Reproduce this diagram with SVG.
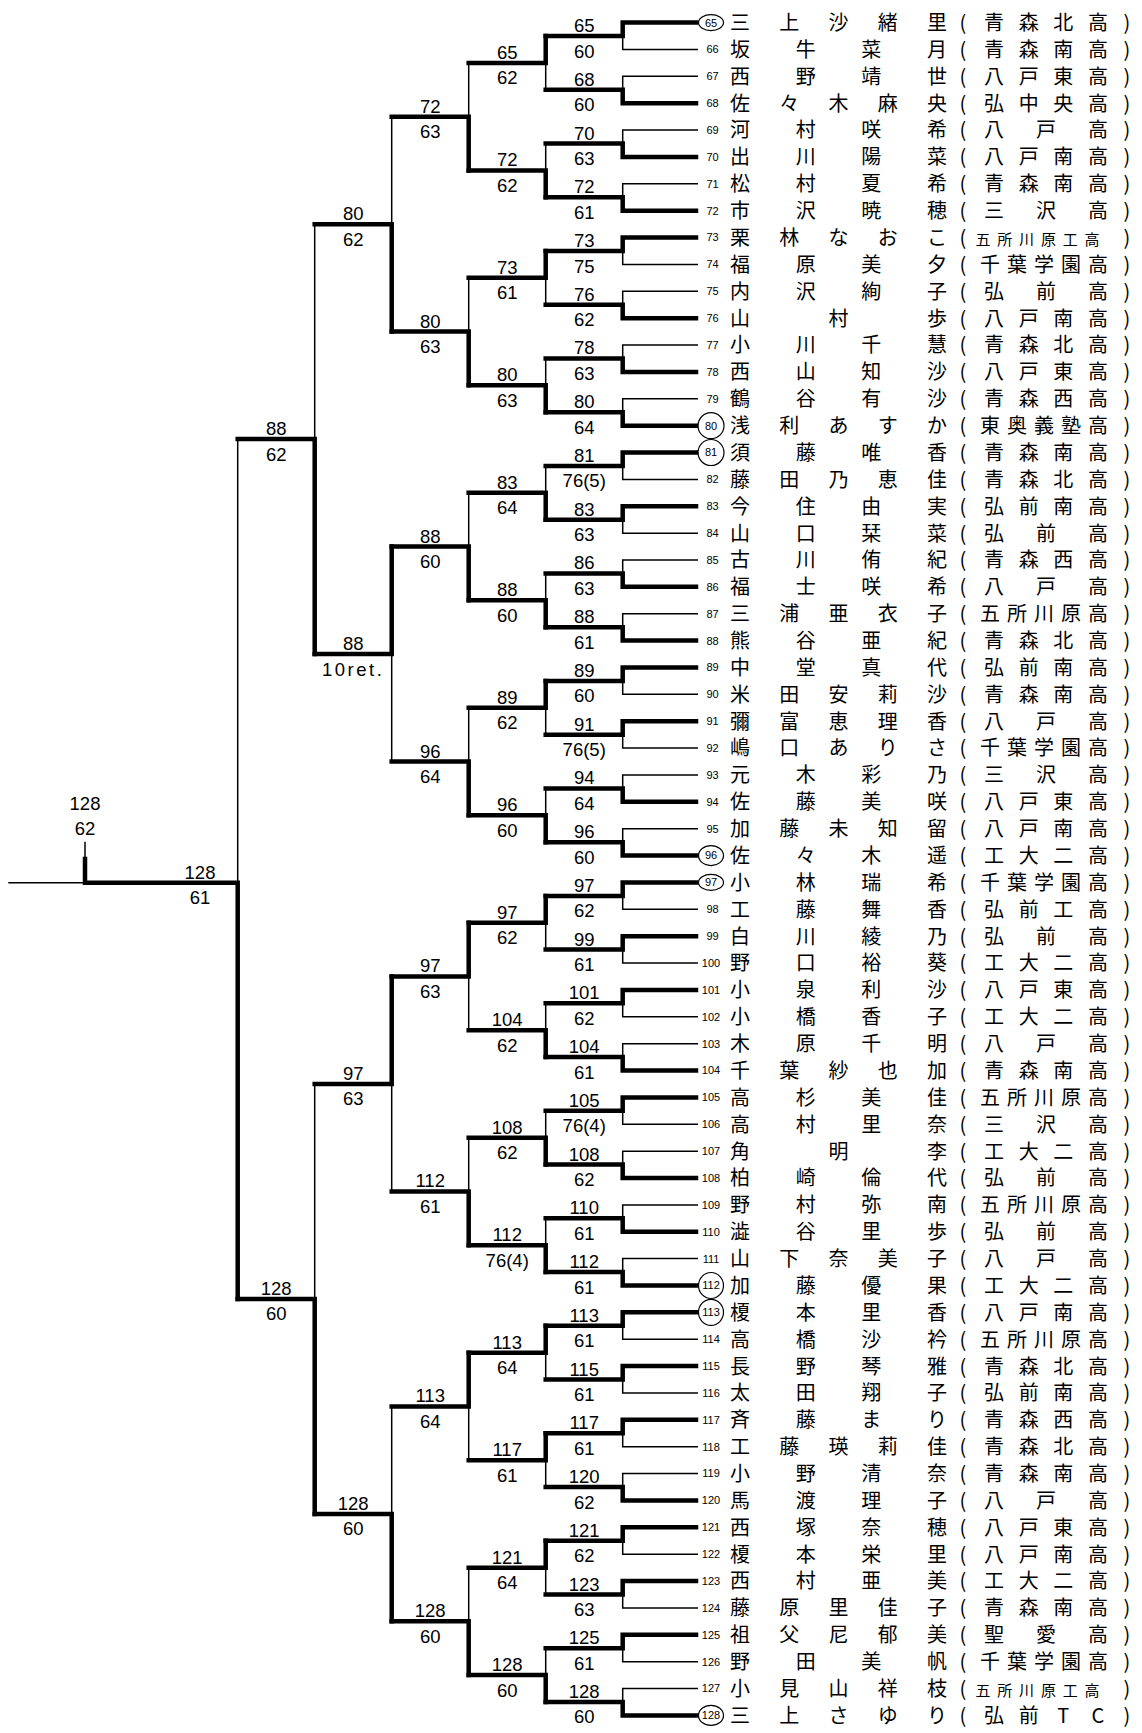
<svg xmlns="http://www.w3.org/2000/svg" width="1142" height="1733" viewBox="0 0 1142 1733">
<style>
.k{fill:none;stroke:#000;stroke-width:4.5;stroke-linecap:square;stroke-linejoin:miter}
.t{fill:none;stroke:#000;stroke-width:1.5}
.l{font-family:"Liberation Sans",Arial,sans-serif;font-size:18.5px;text-anchor:middle;fill:#000}
.rt{letter-spacing:2.5px}
.sd{font-family:"Liberation Sans",Arial,sans-serif;font-size:11px;text-anchor:middle;fill:#000}
.nm{font-family:"Noto Sans CJK JP","Noto Sans CJK SC",sans-serif;font-size:20px;text-anchor:middle;fill:#000}
.sm{font-size:15px}
.c{fill:none;stroke:#000;stroke-width:1.2}
</style>
<rect width="1142" height="1733" fill="#fff"/>
<g id="connectors">
<path class="k" d="M545.7 36.04H622.7V22.6H696"/><path class="t" d="M622.7 36.04V49.47H698"/>
<path class="k" d="M545.7 89.78H622.7V103.21H696"/><path class="t" d="M622.7 89.78V76.34H698"/>
<path class="k" d="M545.7 143.52H622.7V156.95H696"/><path class="t" d="M622.7 143.52V130.08H698"/>
<path class="k" d="M545.7 197.26H622.7V210.69H696"/><path class="t" d="M622.7 197.26V183.82H698"/>
<path class="k" d="M545.7 251H622.7V237.56H696"/><path class="t" d="M622.7 251V264.43H698"/>
<path class="k" d="M545.7 304.74H622.7V318.17H696"/><path class="t" d="M622.7 304.74V291.3H698"/>
<path class="k" d="M545.7 358.48H622.7V371.91H696"/><path class="t" d="M622.7 358.48V345.04H698"/>
<path class="k" d="M545.7 412.22H622.7V425.65H696"/><path class="t" d="M622.7 412.22V398.78H698"/>
<path class="k" d="M545.7 465.96H622.7V452.52H696"/><path class="t" d="M622.7 465.96V479.39H698"/>
<path class="k" d="M545.7 519.7H622.7V506.26H696"/><path class="t" d="M622.7 519.7V533.13H698"/>
<path class="k" d="M545.7 573.44H622.7V586.87H696"/><path class="t" d="M622.7 573.44V560H698"/>
<path class="k" d="M545.7 627.18H622.7V640.61H696"/><path class="t" d="M622.7 627.18V613.74H698"/>
<path class="k" d="M545.7 680.92H622.7V667.48H696"/><path class="t" d="M622.7 680.92V694.35H698"/>
<path class="k" d="M545.7 734.66H622.7V721.22H696"/><path class="t" d="M622.7 734.66V748.09H698"/>
<path class="k" d="M545.7 788.4H622.7V801.83H696"/><path class="t" d="M622.7 788.4V774.96H698"/>
<path class="k" d="M545.7 842.14H622.7V855.57H696"/><path class="t" d="M622.7 842.14V828.7H698"/>
<path class="k" d="M545.7 895.88H622.7V882.44H696"/><path class="t" d="M622.7 895.88V909.31H698"/>
<path class="k" d="M545.7 949.62H622.7V936.18H696"/><path class="t" d="M622.7 949.62V963.05H698"/>
<path class="k" d="M545.7 1003.36H622.7V989.92H696"/><path class="t" d="M622.7 1003.36V1016.79H698"/>
<path class="k" d="M545.7 1057.1H622.7V1070.53H696"/><path class="t" d="M622.7 1057.1V1043.66H698"/>
<path class="k" d="M545.7 1110.84H622.7V1097.4H696"/><path class="t" d="M622.7 1110.84V1124.27H698"/>
<path class="k" d="M545.7 1164.58H622.7V1178.01H696"/><path class="t" d="M622.7 1164.58V1151.14H698"/>
<path class="k" d="M545.7 1218.32H622.7V1231.75H696"/><path class="t" d="M622.7 1218.32V1204.88H698"/>
<path class="k" d="M545.7 1272.06H622.7V1285.49H696"/><path class="t" d="M622.7 1272.06V1258.62H698"/>
<path class="k" d="M545.7 1325.8H622.7V1312.36H696"/><path class="t" d="M622.7 1325.8V1339.23H698"/>
<path class="k" d="M545.7 1379.54H622.7V1366.1H696"/><path class="t" d="M622.7 1379.54V1392.97H698"/>
<path class="k" d="M545.7 1433.28H622.7V1419.84H696"/><path class="t" d="M622.7 1433.28V1446.71H698"/>
<path class="k" d="M545.7 1487.02H622.7V1500.45H696"/><path class="t" d="M622.7 1487.02V1473.58H698"/>
<path class="k" d="M545.7 1540.76H622.7V1527.32H696"/><path class="t" d="M622.7 1540.76V1554.19H698"/>
<path class="k" d="M545.7 1594.5H622.7V1581.06H696"/><path class="t" d="M622.7 1594.5V1607.93H698"/>
<path class="k" d="M545.7 1648.24H622.7V1634.8H696"/><path class="t" d="M622.7 1648.24V1661.67H698"/>
<path class="k" d="M545.7 1701.98H622.7V1715.41H696"/><path class="t" d="M622.7 1701.98V1688.54H698"/>
<path class="k" d="M468.7 62.91H545.7V36.04"/><path class="t" d="M545.7 62.91V89.78"/>
<path class="k" d="M468.7 170.39H545.7V197.26"/><path class="t" d="M545.7 170.39V143.52"/>
<path class="k" d="M468.7 277.87H545.7V251"/><path class="t" d="M545.7 277.87V304.74"/>
<path class="k" d="M468.7 385.35H545.7V412.22"/><path class="t" d="M545.7 385.35V358.48"/>
<path class="k" d="M468.7 492.83H545.7V519.7"/><path class="t" d="M545.7 492.83V465.96"/>
<path class="k" d="M468.7 600.31H545.7V627.18"/><path class="t" d="M545.7 600.31V573.44"/>
<path class="k" d="M468.7 707.79H545.7V680.92"/><path class="t" d="M545.7 707.79V734.66"/>
<path class="k" d="M468.7 815.27H545.7V842.14"/><path class="t" d="M545.7 815.27V788.4"/>
<path class="k" d="M468.7 922.75H545.7V895.88"/><path class="t" d="M545.7 922.75V949.62"/>
<path class="k" d="M468.7 1030.23H545.7V1057.1"/><path class="t" d="M545.7 1030.23V1003.36"/>
<path class="k" d="M468.7 1137.71H545.7V1164.58"/><path class="t" d="M545.7 1137.71V1110.84"/>
<path class="k" d="M468.7 1245.19H545.7V1272.06"/><path class="t" d="M545.7 1245.19V1218.32"/>
<path class="k" d="M468.7 1352.67H545.7V1325.8"/><path class="t" d="M545.7 1352.67V1379.54"/>
<path class="k" d="M468.7 1460.15H545.7V1433.28"/><path class="t" d="M545.7 1460.15V1487.02"/>
<path class="k" d="M468.7 1567.63H545.7V1540.76"/><path class="t" d="M545.7 1567.63V1594.5"/>
<path class="k" d="M468.7 1675.11H545.7V1701.98"/><path class="t" d="M545.7 1675.11V1648.24"/>
<path class="k" d="M391.7 116.65H468.7V170.39"/><path class="t" d="M468.7 116.65V62.91"/>
<path class="k" d="M391.7 331.61H468.7V385.35"/><path class="t" d="M468.7 331.61V277.87"/>
<path class="k" d="M391.7 546.57H468.7V600.31"/><path class="t" d="M468.7 546.57V492.83"/>
<path class="k" d="M391.7 761.53H468.7V815.27"/><path class="t" d="M468.7 761.53V707.79"/>
<path class="k" d="M391.7 976.49H468.7V922.75"/><path class="t" d="M468.7 976.49V1030.23"/>
<path class="k" d="M391.7 1191.45H468.7V1245.19"/><path class="t" d="M468.7 1191.45V1137.71"/>
<path class="k" d="M391.7 1406.41H468.7V1352.67"/><path class="t" d="M468.7 1406.41V1460.15"/>
<path class="k" d="M391.7 1621.37H468.7V1675.11"/><path class="t" d="M468.7 1621.37V1567.63"/>
<path class="k" d="M314.7 224.13H391.7V331.61"/><path class="t" d="M391.7 224.13V116.65"/>
<path class="k" d="M314.7 654.05H391.7V546.57"/><path class="t" d="M391.7 654.05V761.53"/>
<path class="k" d="M314.7 1083.97H391.7V976.49"/><path class="t" d="M391.7 1083.97V1191.45"/>
<path class="k" d="M314.7 1513.89H391.7V1621.37"/><path class="t" d="M391.7 1513.89V1406.41"/>
<path class="k" d="M237.7 439.09H314.7V654.05"/><path class="t" d="M314.7 439.09V224.13"/>
<path class="k" d="M237.7 1298.93H314.7V1513.89"/><path class="t" d="M314.7 1298.93V1083.97"/>
<path class="k" d="M85 858.9V882.7H237.7V1298.93"/><path class="t" d="M237.7 882.7V439.09"/>
<path class="t" d="M85 841.7V858"/><path class="t" d="M8.3 882.7H85"/>
</g>
<g id="scores">
<g id="r1-1" transform="translate(584.2 36.04)"><text class="l" y="-4">65</text><text class="l" y="21.5">60</text></g>
<g id="r1-2" transform="translate(584.2 89.78)"><text class="l" y="-4">68</text><text class="l" y="21.5">60</text></g>
<g id="r1-3" transform="translate(584.2 143.52)"><text class="l" y="-4">70</text><text class="l" y="21.5">63</text></g>
<g id="r1-4" transform="translate(584.2 197.26)"><text class="l" y="-4">72</text><text class="l" y="21.5">61</text></g>
<g id="r1-5" transform="translate(584.2 251)"><text class="l" y="-4">73</text><text class="l" y="21.5">75</text></g>
<g id="r1-6" transform="translate(584.2 304.74)"><text class="l" y="-4">76</text><text class="l" y="21.5">62</text></g>
<g id="r1-7" transform="translate(584.2 358.48)"><text class="l" y="-4">78</text><text class="l" y="21.5">63</text></g>
<g id="r1-8" transform="translate(584.2 412.22)"><text class="l" y="-4">80</text><text class="l" y="21.5">64</text></g>
<g id="r1-9" transform="translate(584.2 465.96)"><text class="l" y="-4">81</text><text class="l" y="21.5">76(5)</text></g>
<g id="r1-10" transform="translate(584.2 519.7)"><text class="l" y="-4">83</text><text class="l" y="21.5">63</text></g>
<g id="r1-11" transform="translate(584.2 573.44)"><text class="l" y="-4">86</text><text class="l" y="21.5">63</text></g>
<g id="r1-12" transform="translate(584.2 627.18)"><text class="l" y="-4">88</text><text class="l" y="21.5">61</text></g>
<g id="r1-13" transform="translate(584.2 680.92)"><text class="l" y="-4">89</text><text class="l" y="21.5">60</text></g>
<g id="r1-14" transform="translate(584.2 734.66)"><text class="l" y="-4">91</text><text class="l" y="21.5">76(5)</text></g>
<g id="r1-15" transform="translate(584.2 788.4)"><text class="l" y="-4">94</text><text class="l" y="21.5">64</text></g>
<g id="r1-16" transform="translate(584.2 842.14)"><text class="l" y="-4">96</text><text class="l" y="21.5">60</text></g>
<g id="r1-17" transform="translate(584.2 895.88)"><text class="l" y="-4">97</text><text class="l" y="21.5">62</text></g>
<g id="r1-18" transform="translate(584.2 949.62)"><text class="l" y="-4">99</text><text class="l" y="21.5">61</text></g>
<g id="r1-19" transform="translate(584.2 1003.36)"><text class="l" y="-4">101</text><text class="l" y="21.5">62</text></g>
<g id="r1-20" transform="translate(584.2 1057.1)"><text class="l" y="-4">104</text><text class="l" y="21.5">61</text></g>
<g id="r1-21" transform="translate(584.2 1110.84)"><text class="l" y="-4">105</text><text class="l" y="21.5">76(4)</text></g>
<g id="r1-22" transform="translate(584.2 1164.58)"><text class="l" y="-4">108</text><text class="l" y="21.5">62</text></g>
<g id="r1-23" transform="translate(584.2 1218.32)"><text class="l" y="-4">110</text><text class="l" y="21.5">61</text></g>
<g id="r1-24" transform="translate(584.2 1272.06)"><text class="l" y="-4">112</text><text class="l" y="21.5">61</text></g>
<g id="r1-25" transform="translate(584.2 1325.8)"><text class="l" y="-4">113</text><text class="l" y="21.5">61</text></g>
<g id="r1-26" transform="translate(584.2 1379.54)"><text class="l" y="-4">115</text><text class="l" y="21.5">61</text></g>
<g id="r1-27" transform="translate(584.2 1433.28)"><text class="l" y="-4">117</text><text class="l" y="21.5">61</text></g>
<g id="r1-28" transform="translate(584.2 1487.02)"><text class="l" y="-4">120</text><text class="l" y="21.5">62</text></g>
<g id="r1-29" transform="translate(584.2 1540.76)"><text class="l" y="-4">121</text><text class="l" y="21.5">62</text></g>
<g id="r1-30" transform="translate(584.2 1594.5)"><text class="l" y="-4">123</text><text class="l" y="21.5">63</text></g>
<g id="r1-31" transform="translate(584.2 1648.24)"><text class="l" y="-4">125</text><text class="l" y="21.5">61</text></g>
<g id="r1-32" transform="translate(584.2 1701.98)"><text class="l" y="-4">128</text><text class="l" y="21.5">60</text></g>
<g id="r2-1" transform="translate(507.2 62.91)"><text class="l" y="-4">65</text><text class="l" y="21.5">62</text></g>
<g id="r2-2" transform="translate(507.2 170.39)"><text class="l" y="-4">72</text><text class="l" y="21.5">62</text></g>
<g id="r2-3" transform="translate(507.2 277.87)"><text class="l" y="-4">73</text><text class="l" y="21.5">61</text></g>
<g id="r2-4" transform="translate(507.2 385.35)"><text class="l" y="-4">80</text><text class="l" y="21.5">63</text></g>
<g id="r2-5" transform="translate(507.2 492.83)"><text class="l" y="-4">83</text><text class="l" y="21.5">64</text></g>
<g id="r2-6" transform="translate(507.2 600.31)"><text class="l" y="-4">88</text><text class="l" y="21.5">60</text></g>
<g id="r2-7" transform="translate(507.2 707.79)"><text class="l" y="-4">89</text><text class="l" y="21.5">62</text></g>
<g id="r2-8" transform="translate(507.2 815.27)"><text class="l" y="-4">96</text><text class="l" y="21.5">60</text></g>
<g id="r2-9" transform="translate(507.2 922.75)"><text class="l" y="-4">97</text><text class="l" y="21.5">62</text></g>
<g id="r2-10" transform="translate(507.2 1030.23)"><text class="l" y="-4">104</text><text class="l" y="21.5">62</text></g>
<g id="r2-11" transform="translate(507.2 1137.71)"><text class="l" y="-4">108</text><text class="l" y="21.5">62</text></g>
<g id="r2-12" transform="translate(507.2 1245.19)"><text class="l" y="-4">112</text><text class="l" y="21.5">76(4)</text></g>
<g id="r2-13" transform="translate(507.2 1352.67)"><text class="l" y="-4">113</text><text class="l" y="21.5">64</text></g>
<g id="r2-14" transform="translate(507.2 1460.15)"><text class="l" y="-4">117</text><text class="l" y="21.5">61</text></g>
<g id="r2-15" transform="translate(507.2 1567.63)"><text class="l" y="-4">121</text><text class="l" y="21.5">64</text></g>
<g id="r2-16" transform="translate(507.2 1675.11)"><text class="l" y="-4">128</text><text class="l" y="21.5">60</text></g>
<g id="r3-1" transform="translate(430.2 116.65)"><text class="l" y="-4">72</text><text class="l" y="21.5">63</text></g>
<g id="r3-2" transform="translate(430.2 331.61)"><text class="l" y="-4">80</text><text class="l" y="21.5">63</text></g>
<g id="r3-3" transform="translate(430.2 546.57)"><text class="l" y="-4">88</text><text class="l" y="21.5">60</text></g>
<g id="r3-4" transform="translate(430.2 761.53)"><text class="l" y="-4">96</text><text class="l" y="21.5">64</text></g>
<g id="r3-5" transform="translate(430.2 976.49)"><text class="l" y="-4">97</text><text class="l" y="21.5">63</text></g>
<g id="r3-6" transform="translate(430.2 1191.45)"><text class="l" y="-4">112</text><text class="l" y="21.5">61</text></g>
<g id="r3-7" transform="translate(430.2 1406.41)"><text class="l" y="-4">113</text><text class="l" y="21.5">64</text></g>
<g id="r3-8" transform="translate(430.2 1621.37)"><text class="l" y="-4">128</text><text class="l" y="21.5">60</text></g>
<g id="r4-1" transform="translate(353.2 224.13)"><text class="l" y="-4">80</text><text class="l" y="21.5">62</text></g>
<g id="r4-2" transform="translate(353.2 654.05)"><text class="l" y="-4">88</text><text class="l rt" y="21.5">10ret.</text></g>
<g id="r4-3" transform="translate(353.2 1083.97)"><text class="l" y="-4">97</text><text class="l" y="21.5">63</text></g>
<g id="r4-4" transform="translate(353.2 1513.89)"><text class="l" y="-4">128</text><text class="l" y="21.5">60</text></g>
<g id="r5-1" transform="translate(276.2 439.09)"><text class="l" y="-4">88</text><text class="l" y="21.5">62</text></g>
<g id="r5-2" transform="translate(276.2 1298.93)"><text class="l" y="-4">128</text><text class="l" y="21.5">60</text></g>
<g id="final" transform="translate(200 882.7)"><text class="l" y="-4">128</text><text class="l" y="21.5">61</text></g>
<g id="champion" transform="translate(85 0)"><text class="l" y="809.5">128</text><text class="l" y="835">62</text></g>
</g>
<g id="players">
<g id="p65" transform="translate(0 22.6)"><ellipse class="c" cx="711" cy="0" rx="12.5" ry="8"/><text class="sd" x="711" y="3.9">65</text><text class="nm" x="740 789.3 838.5 887.8 937 963 994 1028.7 1063.3 1098 1127" y="7.4">三上沙緒里(青森北高)</text></g>
<g id="p66" transform="translate(0 49.47)"><text class="sd" x="712.5" y="3.9">66</text><text class="nm" x="740 805.7 871.3 937 963 994 1028.7 1063.3 1098 1127" y="7.4">坂牛菜月(青森南高)</text></g>
<g id="p67" transform="translate(0 76.34)"><text class="sd" x="712.5" y="3.9">67</text><text class="nm" x="740 805.7 871.3 937 963 994 1028.7 1063.3 1098 1127" y="7.4">西野靖世(八戸東高)</text></g>
<g id="p68" transform="translate(0 103.21)"><text class="sd" x="712.5" y="3.9">68</text><text class="nm" x="740 789.3 838.5 887.8 937 963 994 1028.7 1063.3 1098 1127" y="7.4">佐々木麻央(弘中央高)</text></g>
<g id="p69" transform="translate(0 130.08)"><text class="sd" x="712.5" y="3.9">69</text><text class="nm" x="740 805.7 871.3 937 963 994 1046 1098 1127" y="7.4">河村咲希(八戸高)</text></g>
<g id="p70" transform="translate(0 156.95)"><text class="sd" x="712.5" y="3.9">70</text><text class="nm" x="740 805.7 871.3 937 963 994 1028.7 1063.3 1098 1127" y="7.4">出川陽菜(八戸南高)</text></g>
<g id="p71" transform="translate(0 183.82)"><text class="sd" x="712.5" y="3.9">71</text><text class="nm" x="740 805.7 871.3 937 963 994 1028.7 1063.3 1098 1127" y="7.4">松村夏希(青森南高)</text></g>
<g id="p72" transform="translate(0 210.69)"><text class="sd" x="712.5" y="3.9">72</text><text class="nm" x="740 805.7 871.3 937 963 994 1046 1098 1127" y="7.4">市沢暁穂(三沢高)</text></g>
<g id="p73" transform="translate(0 237.56)"><text class="sd" x="712.5" y="3.9">73</text><text class="nm" x="740 789.3 838.5 887.8 937 963 983 1004.8 1026.6 1048.4 1070.2 1092 1127" y="7.4">栗林なおこ(<tspan class="sm">五所川原工高</tspan>)</text></g>
<g id="p74" transform="translate(0 264.43)"><text class="sd" x="712.5" y="3.9">74</text><text class="nm" x="740 805.7 871.3 937 963 990 1017 1044 1071 1098 1127" y="7.4">福原美夕(千葉学園高)</text></g>
<g id="p75" transform="translate(0 291.3)"><text class="sd" x="712.5" y="3.9">75</text><text class="nm" x="740 805.7 871.3 937 963 994 1046 1098 1127" y="7.4">内沢絢子(弘前高)</text></g>
<g id="p76" transform="translate(0 318.17)"><text class="sd" x="712.5" y="3.9">76</text><text class="nm" x="740 838.5 937 963 994 1028.7 1063.3 1098 1127" y="7.4">山村歩(八戸南高)</text></g>
<g id="p77" transform="translate(0 345.04)"><text class="sd" x="712.5" y="3.9">77</text><text class="nm" x="740 805.7 871.3 937 963 994 1028.7 1063.3 1098 1127" y="7.4">小川千慧(青森北高)</text></g>
<g id="p78" transform="translate(0 371.91)"><text class="sd" x="712.5" y="3.9">78</text><text class="nm" x="740 805.7 871.3 937 963 994 1028.7 1063.3 1098 1127" y="7.4">西山知沙(八戸東高)</text></g>
<g id="p79" transform="translate(0 398.78)"><text class="sd" x="712.5" y="3.9">79</text><text class="nm" x="740 805.7 871.3 937 963 994 1028.7 1063.3 1098 1127" y="7.4">鶴谷有沙(青森西高)</text></g>
<g id="p80" transform="translate(0 425.65)"><ellipse class="c" cx="711" cy="0" rx="13" ry="13"/><text class="sd" x="711" y="3.9">80</text><text class="nm" x="740 789.3 838.5 887.8 937 963 990 1017 1044 1071 1098 1127" y="7.4">浅利あすか(東奥義塾高)</text></g>
<g id="p81" transform="translate(0 452.52)"><ellipse class="c" cx="711" cy="0" rx="13" ry="13"/><text class="sd" x="711" y="3.9">81</text><text class="nm" x="740 805.7 871.3 937 963 994 1028.7 1063.3 1098 1127" y="7.4">須藤唯香(青森南高)</text></g>
<g id="p82" transform="translate(0 479.39)"><text class="sd" x="712.5" y="3.9">82</text><text class="nm" x="740 789.3 838.5 887.8 937 963 994 1028.7 1063.3 1098 1127" y="7.4">藤田乃恵佳(青森北高)</text></g>
<g id="p83" transform="translate(0 506.26)"><text class="sd" x="712.5" y="3.9">83</text><text class="nm" x="740 805.7 871.3 937 963 994 1028.7 1063.3 1098 1127" y="7.4">今住由実(弘前南高)</text></g>
<g id="p84" transform="translate(0 533.13)"><text class="sd" x="712.5" y="3.9">84</text><text class="nm" x="740 805.7 871.3 937 963 994 1046 1098 1127" y="7.4">山口栞菜(弘前高)</text></g>
<g id="p85" transform="translate(0 560)"><text class="sd" x="712.5" y="3.9">85</text><text class="nm" x="740 805.7 871.3 937 963 994 1028.7 1063.3 1098 1127" y="7.4">古川侑紀(青森西高)</text></g>
<g id="p86" transform="translate(0 586.87)"><text class="sd" x="712.5" y="3.9">86</text><text class="nm" x="740 805.7 871.3 937 963 994 1046 1098 1127" y="7.4">福士咲希(八戸高)</text></g>
<g id="p87" transform="translate(0 613.74)"><text class="sd" x="712.5" y="3.9">87</text><text class="nm" x="740 789.3 838.5 887.8 937 963 990 1017 1044 1071 1098 1127" y="7.4">三浦亜衣子(五所川原高)</text></g>
<g id="p88" transform="translate(0 640.61)"><text class="sd" x="712.5" y="3.9">88</text><text class="nm" x="740 805.7 871.3 937 963 994 1028.7 1063.3 1098 1127" y="7.4">熊谷亜紀(青森北高)</text></g>
<g id="p89" transform="translate(0 667.48)"><text class="sd" x="712.5" y="3.9">89</text><text class="nm" x="740 805.7 871.3 937 963 994 1028.7 1063.3 1098 1127" y="7.4">中堂真代(弘前南高)</text></g>
<g id="p90" transform="translate(0 694.35)"><text class="sd" x="712.5" y="3.9">90</text><text class="nm" x="740 789.3 838.5 887.8 937 963 994 1028.7 1063.3 1098 1127" y="7.4">米田安莉沙(青森南高)</text></g>
<g id="p91" transform="translate(0 721.22)"><text class="sd" x="712.5" y="3.9">91</text><text class="nm" x="740 789.3 838.5 887.8 937 963 994 1046 1098 1127" y="7.4">彌富恵理香(八戸高)</text></g>
<g id="p92" transform="translate(0 748.09)"><text class="sd" x="712.5" y="3.9">92</text><text class="nm" x="740 789.3 838.5 887.8 937 963 990 1017 1044 1071 1098 1127" y="7.4">嶋口ありさ(千葉学園高)</text></g>
<g id="p93" transform="translate(0 774.96)"><text class="sd" x="712.5" y="3.9">93</text><text class="nm" x="740 805.7 871.3 937 963 994 1046 1098 1127" y="7.4">元木彩乃(三沢高)</text></g>
<g id="p94" transform="translate(0 801.83)"><text class="sd" x="712.5" y="3.9">94</text><text class="nm" x="740 805.7 871.3 937 963 994 1028.7 1063.3 1098 1127" y="7.4">佐藤美咲(八戸東高)</text></g>
<g id="p95" transform="translate(0 828.7)"><text class="sd" x="712.5" y="3.9">95</text><text class="nm" x="740 789.3 838.5 887.8 937 963 994 1028.7 1063.3 1098 1127" y="7.4">加藤未知留(八戸南高)</text></g>
<g id="p96" transform="translate(0 855.57)"><ellipse class="c" cx="711" cy="0" rx="12.5" ry="10"/><text class="sd" x="711" y="3.9">96</text><text class="nm" x="740 805.7 871.3 937 963 994 1028.7 1063.3 1098 1127" y="7.4">佐々木遥(工大二高)</text></g>
<g id="p97" transform="translate(0 882.44)"><ellipse class="c" cx="711" cy="0" rx="12.5" ry="8"/><text class="sd" x="711" y="3.9">97</text><text class="nm" x="740 805.7 871.3 937 963 990 1017 1044 1071 1098 1127" y="7.4">小林瑞希(千葉学園高)</text></g>
<g id="p98" transform="translate(0 909.31)"><text class="sd" x="712.5" y="3.9">98</text><text class="nm" x="740 805.7 871.3 937 963 994 1028.7 1063.3 1098 1127" y="7.4">工藤舞香(弘前工高)</text></g>
<g id="p99" transform="translate(0 936.18)"><text class="sd" x="712.5" y="3.9">99</text><text class="nm" x="740 805.7 871.3 937 963 994 1046 1098 1127" y="7.4">白川綾乃(弘前高)</text></g>
<g id="p100" transform="translate(0 963.05)"><text class="sd" x="711" y="3.9">100</text><text class="nm" x="740 805.7 871.3 937 963 994 1028.7 1063.3 1098 1127" y="7.4">野口裕葵(工大二高)</text></g>
<g id="p101" transform="translate(0 989.92)"><text class="sd" x="711" y="3.9">101</text><text class="nm" x="740 805.7 871.3 937 963 994 1028.7 1063.3 1098 1127" y="7.4">小泉利沙(八戸東高)</text></g>
<g id="p102" transform="translate(0 1016.79)"><text class="sd" x="711" y="3.9">102</text><text class="nm" x="740 805.7 871.3 937 963 994 1028.7 1063.3 1098 1127" y="7.4">小橋香子(工大二高)</text></g>
<g id="p103" transform="translate(0 1043.66)"><text class="sd" x="711" y="3.9">103</text><text class="nm" x="740 805.7 871.3 937 963 994 1046 1098 1127" y="7.4">木原千明(八戸高)</text></g>
<g id="p104" transform="translate(0 1070.53)"><text class="sd" x="711" y="3.9">104</text><text class="nm" x="740 789.3 838.5 887.8 937 963 994 1028.7 1063.3 1098 1127" y="7.4">千葉紗也加(青森南高)</text></g>
<g id="p105" transform="translate(0 1097.4)"><text class="sd" x="711" y="3.9">105</text><text class="nm" x="740 805.7 871.3 937 963 990 1017 1044 1071 1098 1127" y="7.4">高杉美佳(五所川原高)</text></g>
<g id="p106" transform="translate(0 1124.27)"><text class="sd" x="711" y="3.9">106</text><text class="nm" x="740 805.7 871.3 937 963 994 1046 1098 1127" y="7.4">高村里奈(三沢高)</text></g>
<g id="p107" transform="translate(0 1151.14)"><text class="sd" x="711" y="3.9">107</text><text class="nm" x="740 838.5 937 963 994 1028.7 1063.3 1098 1127" y="7.4">角明李(工大二高)</text></g>
<g id="p108" transform="translate(0 1178.01)"><text class="sd" x="711" y="3.9">108</text><text class="nm" x="740 805.7 871.3 937 963 994 1046 1098 1127" y="7.4">柏崎倫代(弘前高)</text></g>
<g id="p109" transform="translate(0 1204.88)"><text class="sd" x="711" y="3.9">109</text><text class="nm" x="740 805.7 871.3 937 963 990 1017 1044 1071 1098 1127" y="7.4">野村弥南(五所川原高)</text></g>
<g id="p110" transform="translate(0 1231.75)"><text class="sd" x="711" y="3.9">110</text><text class="nm" x="740 805.7 871.3 937 963 994 1046 1098 1127" y="7.4">澁谷里歩(弘前高)</text></g>
<g id="p111" transform="translate(0 1258.62)"><text class="sd" x="711" y="3.9">111</text><text class="nm" x="740 789.3 838.5 887.8 937 963 994 1046 1098 1127" y="7.4">山下奈美子(八戸高)</text></g>
<g id="p112" transform="translate(0 1285.49)"><ellipse class="c" cx="711" cy="0" rx="12.5" ry="13"/><text class="sd" x="711" y="3.9">112</text><text class="nm" x="740 805.7 871.3 937 963 994 1028.7 1063.3 1098 1127" y="7.4">加藤優果(工大二高)</text></g>
<g id="p113" transform="translate(0 1312.36)"><ellipse class="c" cx="711" cy="0" rx="12.5" ry="13"/><text class="sd" x="711" y="3.9">113</text><text class="nm" x="740 805.7 871.3 937 963 994 1028.7 1063.3 1098 1127" y="7.4">榎本里香(八戸南高)</text></g>
<g id="p114" transform="translate(0 1339.23)"><text class="sd" x="711" y="3.9">114</text><text class="nm" x="740 805.7 871.3 937 963 990 1017 1044 1071 1098 1127" y="7.4">高橋沙衿(五所川原高)</text></g>
<g id="p115" transform="translate(0 1366.1)"><text class="sd" x="711" y="3.9">115</text><text class="nm" x="740 805.7 871.3 937 963 994 1028.7 1063.3 1098 1127" y="7.4">長野琴雅(青森北高)</text></g>
<g id="p116" transform="translate(0 1392.97)"><text class="sd" x="711" y="3.9">116</text><text class="nm" x="740 805.7 871.3 937 963 994 1028.7 1063.3 1098 1127" y="7.4">太田翔子(弘前南高)</text></g>
<g id="p117" transform="translate(0 1419.84)"><text class="sd" x="711" y="3.9">117</text><text class="nm" x="740 805.7 871.3 937 963 994 1028.7 1063.3 1098 1127" y="7.4">斉藤まり(青森西高)</text></g>
<g id="p118" transform="translate(0 1446.71)"><text class="sd" x="711" y="3.9">118</text><text class="nm" x="740 789.3 838.5 887.8 937 963 994 1028.7 1063.3 1098 1127" y="7.4">工藤瑛莉佳(青森北高)</text></g>
<g id="p119" transform="translate(0 1473.58)"><text class="sd" x="711" y="3.9">119</text><text class="nm" x="740 805.7 871.3 937 963 994 1028.7 1063.3 1098 1127" y="7.4">小野清奈(青森南高)</text></g>
<g id="p120" transform="translate(0 1500.45)"><text class="sd" x="711" y="3.9">120</text><text class="nm" x="740 805.7 871.3 937 963 994 1046 1098 1127" y="7.4">馬渡理子(八戸高)</text></g>
<g id="p121" transform="translate(0 1527.32)"><text class="sd" x="711" y="3.9">121</text><text class="nm" x="740 805.7 871.3 937 963 994 1028.7 1063.3 1098 1127" y="7.4">西塚奈穂(八戸東高)</text></g>
<g id="p122" transform="translate(0 1554.19)"><text class="sd" x="711" y="3.9">122</text><text class="nm" x="740 805.7 871.3 937 963 994 1028.7 1063.3 1098 1127" y="7.4">榎本栄里(八戸南高)</text></g>
<g id="p123" transform="translate(0 1581.06)"><text class="sd" x="711" y="3.9">123</text><text class="nm" x="740 805.7 871.3 937 963 994 1028.7 1063.3 1098 1127" y="7.4">西村亜美(工大二高)</text></g>
<g id="p124" transform="translate(0 1607.93)"><text class="sd" x="711" y="3.9">124</text><text class="nm" x="740 789.3 838.5 887.8 937 963 994 1028.7 1063.3 1098 1127" y="7.4">藤原里佳子(青森南高)</text></g>
<g id="p125" transform="translate(0 1634.8)"><text class="sd" x="711" y="3.9">125</text><text class="nm" x="740 789.3 838.5 887.8 937 963 994 1046 1098 1127" y="7.4">祖父尼郁美(聖愛高)</text></g>
<g id="p126" transform="translate(0 1661.67)"><text class="sd" x="711" y="3.9">126</text><text class="nm" x="740 805.7 871.3 937 963 990 1017 1044 1071 1098 1127" y="7.4">野田美帆(千葉学園高)</text></g>
<g id="p127" transform="translate(0 1688.54)"><text class="sd" x="711" y="3.9">127</text><text class="nm" x="740 789.3 838.5 887.8 937 963 983 1004.8 1026.6 1048.4 1070.2 1092 1127" y="7.4">小見山祥枝(<tspan class="sm">五所川原工高</tspan>)</text></g>
<g id="p128" transform="translate(0 1715.41)"><ellipse class="c" cx="711" cy="0" rx="12.5" ry="10"/><text class="sd" x="711" y="3.9">128</text><text class="nm" x="740 789.3 838.5 887.8 937 963 994 1028.7 1063.3 1098 1127" y="7.4">三上さゆり(弘前TC)</text></g>
</g>
</svg>
